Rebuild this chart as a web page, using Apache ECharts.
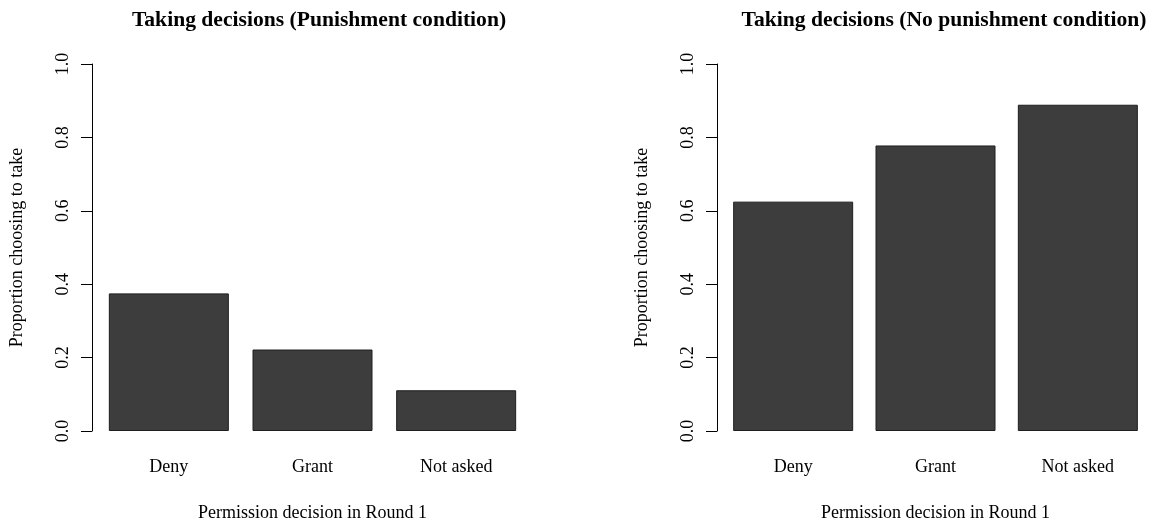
<!DOCTYPE html>
<html>
<head>
<meta charset="utf-8">
<script src="https://cdn.jsdelivr.net/npm/echarts@6/dist/echarts.min.js"></script>
<style>
html,body{margin:0;padding:0;background:#fff;}
#chart{width:1149px;height:527px;}
</style>
</head>
<body>
<div id="chart"></div>
<script>
const categories = ['Deny', 'Grant', 'Not asked'];
const punishmentValues = [0.375, 0.222, 0.111];
const noPunishmentValues = [0.625, 0.778, 0.889];
const titles = ['Taking decisions (Punishment condition)', 'Taking decisions (No punishment condition)'];
const yAxisName = 'Proportion choosing to take';
const xAxisName = 'Permission decision in Round 1';

const FONT = "'Liberation Serif', 'Times New Roman', serif";
const chart = echarts.init(document.getElementById('chart'));

function xAx(i) {
  return {
    type: 'category', gridIndex: i, data: categories,
    axisLine: {show: false}, axisTick: {show: false},
    axisLabel: {fontFamily: FONT, fontSize: 18, color: '#000', margin: 27},
    name: xAxisName, nameLocation: 'middle', nameGap: 73,
    nameTextStyle: {fontFamily: FONT, fontSize: 18, color: '#000'}
  };
}
function yAx(i) {
  return {
    type: 'value', gridIndex: i, min: 0, max: 1, interval: 0.2, offset: 5,
    axisLine: {show: true, lineStyle: {color: '#000', width: 1}},
    axisTick: {show: true, length: 11, lineStyle: {color: '#000', width: 1}},
    splitLine: {show: false},
    axisLabel: {fontFamily: FONT, fontSize: 18, color: '#000', rotate: 90, margin: 20,
      formatter: v => v.toFixed(1)},
    name: yAxisName, nameLocation: 'middle', nameGap: 66,
    nameTextStyle: {fontFamily: FONT, fontSize: 18, color: '#000'}
  };
}
const barStyle = {color: '#3d3d3d', borderColor: '#1e1e1e', borderWidth: 1};

chart.setOption({
  backgroundColor: '#fff',
  animation: false,
  title: [
    {text: titles[0], left: 314, top: 4, textAlign: 'center',
     textStyle: {fontFamily: FONT, fontSize: 21.6, fontWeight: 'bold', color: '#000'}},
    {text: titles[1], left: 939, top: 4, textAlign: 'center',
     textStyle: {fontFamily: FONT, fontSize: 21.6, fontWeight: 'bold', color: '#000'}}
  ],
  grid: [
    {left: 97, width: 431, top: 64, height: 373.5},
    {left: 722, width: 431, top: 64, height: 373.5}
  ],
  xAxis: [xAx(0), xAx(1)],
  yAxis: [yAx(0), yAx(1)],
  series: [
    {type: 'bar', xAxisIndex: 0, yAxisIndex: 0, data: punishmentValues, barWidth: 120, itemStyle: barStyle},
    {type: 'bar', xAxisIndex: 1, yAxisIndex: 1, data: noPunishmentValues, barWidth: 120, itemStyle: barStyle}
  ]
});
</script>
</body>
</html>
